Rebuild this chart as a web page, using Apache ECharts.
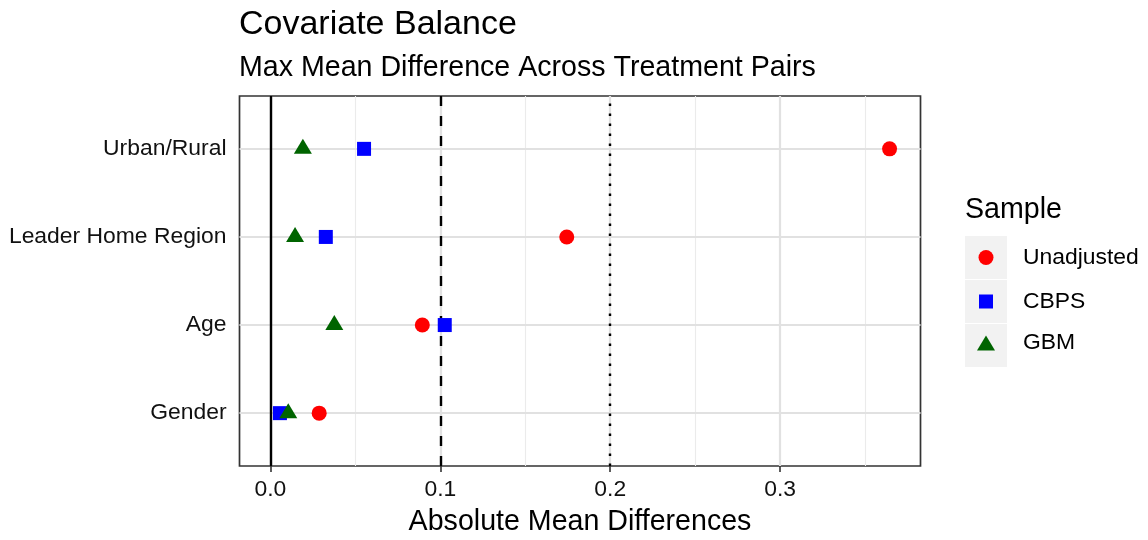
<!DOCTYPE html>
<html>
<head>
<meta charset="utf-8">
<title>Covariate Balance</title>
<script src="https://cdn.jsdelivr.net/npm/echarts@6/dist/echarts.min.js"></script>
<style>
  html, body { margin: 0; padding: 0; background: #ffffff; }
  #chart { width: 1148px; height: 540px; }
</style>
</head>
<body>
<div id="chart"></div>
<script>
// Covariates, listed bottom to top
const covariates = ['Gender', 'Age', 'Leader Home Region', 'Urban/Rural'];

// Max absolute mean difference per covariate
const unadjusted = [0.0287, 0.0894, 0.1744, 0.3644];
const cbps       = [0.0056, 0.1026, 0.0326, 0.0551];
const gbm        = [0.0105, 0.0376, 0.0145, 0.0191];

// Axis ticks and gridlines
const xTicks      = [0, 0.1, 0.2, 0.3];
const xTickLabels = ['0.0', '0.1', '0.2', '0.3'];
const xMinor      = [0.05, 0.15, 0.25, 0.35];
const yTicks      = [1, 2, 3, 4];

// Reference thresholds
const zeroLine   = 0;
const dashedLine = 0.1;
const dottedLine = 0.2;

const FONT = '"Liberation Sans", Arial, Helvetica, sans-serif';
const TEXT = '#111111';

const toPoints = vals => vals.map((v, i) => [v, yTicks[i]]);

const chart = echarts.init(document.getElementById('chart'), null, { renderer: 'canvas' });

const noEmph = { disabled: true };

chart.setOption({
  animation: false,
  backgroundColor: '#ffffff',
  title: [
    { text: 'Covariate Balance', left: 239, top: 8, padding: 0,
      textStyle: { fontFamily: FONT, fontSize: 34, fontWeight: 'normal', color: '#000', lineHeight: 34 } },
    { text: 'Max Mean Difference Across Treatment Pairs', left: 239, top: 54, padding: 0,
      textStyle: { fontFamily: FONT, fontSize: 28.6, fontWeight: 'normal', color: '#000', lineHeight: 28.6 } },
    { text: 'Sample', left: 965, top: 196, padding: 0,
      textStyle: { fontFamily: FONT, fontSize: 28.6, fontWeight: 'normal', color: '#000', lineHeight: 28.6 } }
  ],
  graphic: [
    { type: 'rect', left: 965, top: 236, z: 1, shape: { width: 42, height: 43 }, style: { fill: '#f2f2f2' } },
    { type: 'rect', left: 965, top: 280, z: 1, shape: { width: 42, height: 43 }, style: { fill: '#f2f2f2' } },
    { type: 'rect', left: 965, top: 324, z: 1, shape: { width: 42, height: 43 }, style: { fill: '#f2f2f2' } }
  ],
  legend: [
    { data: ['Unadjusted'], orient: 'vertical', left: 978.5, top: 246, padding: 0,
      itemWidth: 15, itemHeight: 15, selectedMode: false, z: 5,
      textStyle: { fontFamily: FONT, fontSize: 22.9, color: '#000', lineHeight: 23, padding: [0, 0, 0, 24.5] } },
    { data: ['CBPS'], orient: 'vertical', left: 979, top: 290, padding: 0,
      itemWidth: 14, itemHeight: 14, selectedMode: false, z: 5,
      textStyle: { fontFamily: FONT, fontSize: 22.9, color: '#000', lineHeight: 23, padding: [0, 0, 0, 25] } },
    { data: ['GBM'], orient: 'vertical', left: 977, top: 329, padding: 0,
      itemWidth: 18, itemHeight: 15, selectedMode: false, z: 5,
      textStyle: { fontFamily: FONT, fontSize: 22.9, color: '#000', lineHeight: 23, padding: [5, 0, 0, 23] } }
  ],
  grid: {
    left: 239.5, right: 227.5, top: 96, bottom: 74,
    outerBoundsMode: 'none',
    show: true, backgroundColor: '#ffffff', borderColor: '#333333', borderWidth: 1.7
  },
  xAxis: {
    type: 'value',
    min: -0.0182, max: 0.3826,
    name: 'Absolute Mean Differences',
    nameLocation: 'middle',
    nameGap: 42,
    nameTextStyle: { fontFamily: FONT, fontSize: 28.6, color: '#000', lineHeight: 28.6 },
    axisLine: { show: false },
    axisTick: { show: true, customValues: xTicks, length: 6, lineStyle: { color: '#333333', width: 1.6 } },
    axisLabel: {
      show: true, customValues: xTicks, margin: 12,
      formatter: v => xTickLabels[xTicks.findIndex(t => Math.abs(t - v) < 1e-9)],
      fontFamily: FONT, fontSize: 22.9, color: TEXT, lineHeight: 23
    },
    splitLine: { show: false }
  },
  yAxis: {
    type: 'value',
    min: 0.4, max: 4.6,
    axisLine: { show: false },
    axisTick: { show: true, customValues: yTicks, length: 6, lineStyle: { color: '#333333', width: 1.6 } },
    axisLabel: {
      show: true, customValues: yTicks, margin: 13,
      formatter: v => covariates[Math.round(v) - 1],
      fontFamily: FONT, fontSize: 22.9, color: TEXT, lineHeight: 23
    },
    splitLine: { show: false }
  },
  series: [
    {
      name: 'grid-lines', type: 'line', data: [], z: 1, silent: true,
      markLine: {
        z: 1, silent: true, symbol: 'none', animation: false, emphasis: noEmph,
        label: { show: false },
        data: [
          ...xMinor.map(v => ({ xAxis: v, lineStyle: { color: '#ebebeb', width: 1.1, type: 'solid' } })),
          ...xTicks.map(v => ({ xAxis: v, lineStyle: { color: '#e1e1e1', width: 2.2, type: 'solid' } })),
          ...yTicks.map(v => ({ yAxis: v, lineStyle: { color: '#e1e1e1', width: 2.2, type: 'solid' } }))
        ]
      }
    },
    {
      name: 'reference-lines', type: 'line', data: [], z: 2, silent: true,
      markLine: {
        z: 2, silent: true, symbol: 'none', animation: false, emphasis: noEmph,
        label: { show: false },
        data: [
          { xAxis: zeroLine,   lineStyle: { color: '#000', width: 2.4, type: 'solid' } },
          { xAxis: dashedLine, lineStyle: { color: '#000', width: 2.4, type: [10, 10] } },
          { xAxis: dottedLine, lineStyle: { color: '#000', width: 2.4, type: [2.5, 7.5] } }
        ]
      }
    },
    {
      name: 'Unadjusted', type: 'scatter', z: 3,
      symbol: 'circle', symbolSize: 15,
      itemStyle: { color: '#ff0000', opacity: 1 },
      emphasis: noEmph,
      data: toPoints(unadjusted)
    },
    {
      name: 'CBPS', type: 'scatter', z: 4,
      symbol: 'rect', symbolSize: 14,
      itemStyle: { color: '#0000ff', opacity: 1 },
      emphasis: noEmph,
      data: toPoints(cbps)
    },
    {
      name: 'GBM', type: 'scatter', z: 5,
      symbol: 'triangle', symbolSize: [18, 15], symbolOffset: [0, -2.5],
      itemStyle: { color: '#006400', opacity: 1 },
      emphasis: noEmph,
      data: toPoints(gbm)
    }
  ]
});
</script>
</body>
</html>
